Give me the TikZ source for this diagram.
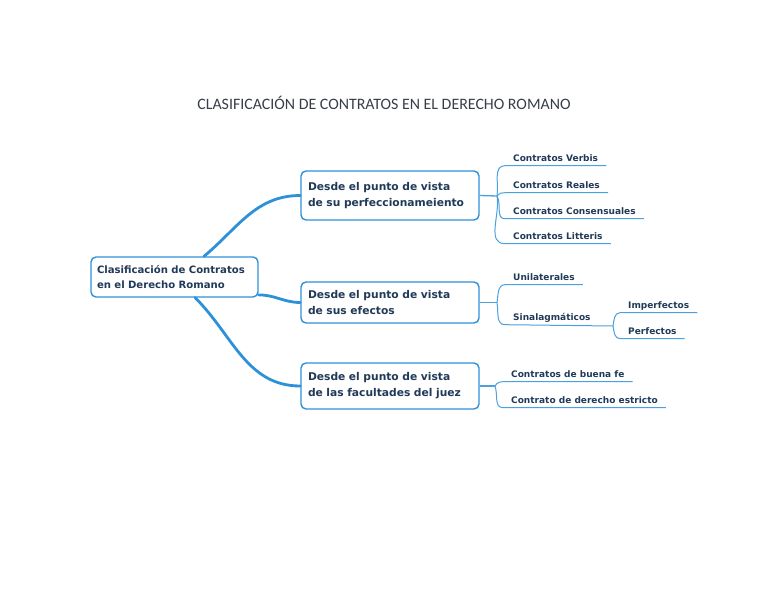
\documentclass[tikz,border=0pt]{standalone}
\usepackage{fontspec}
\setmainfont{DejaVu Sans}
\newfontfamily\titlefont{Carlito}
\usetikzlibrary{positioning, calc}
\definecolor{mapblue}{RGB}{45,145,218}
\definecolor{lineblue}{RGB}{75,160,222}
\definecolor{textnavy}{RGB}{33,58,88}
\definecolor{titlegray}{RGB}{55,62,74}

\begin{document}
\begin{tikzpicture}[x=1pt, y=-1pt,
  rootbox/.style={rectangle, draw=mapblue, line width=1.4pt, rounded corners=5pt, fill=white,
    minimum width=167pt, minimum height=40pt, text width=155pt, align=left,
    font=\bfseries\fontsize{10.1}{15}\selectfont, text=textnavy},
  viewbox/.style={rootbox, minimum width=178pt, text width=164pt,
    font=\bfseries\fontsize{10.7}{16}\selectfont},
  leaf/.style={anchor=base west, inner xsep=8pt, inner ysep=2pt, text height=7pt, text depth=2.5pt,
    font=\bfseries\fontsize{9}{10}\selectfont, text=textnavy},
  trunk/.style={draw=mapblue, line width=2.8pt, line cap=round},
  stem/.style={draw=lineblue, line width=1.3pt},
  leafline/.style={draw=lineblue, line width=1pt}
]
\useasboundingbox (0,0) rectangle (768,594);

% titulo
\node (title) [font=\titlefont\fontsize{15.9}{17}\selectfont, text=titlegray] at (384,103)
  {CLASIFICACIÓN DE CONTRATOS EN EL DERECHO ROMANO};

% nodo central
\node (root) [rootbox] at (174.5,277) {Clasificación de Contratos\\en el Derecho Romano};

% tres puntos de vista
\node (view1) [viewbox, minimum height=49pt] at (390,195.5) {Desde el punto de vista\\de su perfeccionameiento};
\node (view2) [viewbox, minimum height=41pt] at (390,302.5) {Desde el punto de vista\\de sus efectos};
\node (view3) [viewbox, minimum height=46pt] at (390,386) {Desde el punto de vista\\de las facultades del juez};

\draw [trunk] (root.35) to[out=40, in=180] (view1.west);
\draw [trunk] (root.-12) to[out=0, in=180] (view2.west);
\draw [trunk] (root.-45) to[out=-45, in=180] (view3.west);

% hojas del primer punto de vista
\node (verbis) [leaf] at (505,161) {Contratos Verbis};
\node (reales) [leaf] at (505,188) {Contratos Reales};
\node (consens) [leaf] at (505,214) {Contratos Consensuales};
\node (litteris) [leaf] at (505,239) {Contratos Litteris};

\coordinate (fork1) at (497,196);
\draw [stem] (view1.east) -- (fork1);
\draw [leafline] (fork1) to[out=80, in=180] (verbis.south west) -- (verbis.south east);
\draw [leafline] (fork1) to[out=60, in=180] (reales.south west) -- (reales.south east);
\draw [leafline] (fork1) to[out=-60, in=180] (consens.south west) -- (consens.south east);
\draw [leafline] (fork1) to[out=-80, in=180] (litteris.south west) -- (litteris.south east);

% hojas del segundo punto de vista
\node (unilat) [leaf] at (505,280) {Unilaterales};
\node (sinal) [leaf] at (505,320) {Sinalagmáticos};
\node (imperf) [leaf] at (620,308) {Imperfectos};
\node (perf) [leaf] at (620,334) {Perfectos};

\coordinate (fork2) at (497,302.5);
\coordinate (fork3) at (613,326);
\draw [stem] (view2.east) -- (fork2);
\draw [leafline] (fork2) to[out=80, in=180] (unilat.south west) -- (unilat.south east);
\draw [leafline] (fork2) to[out=-80, in=180] (sinal.south west) -- (fork3);
\draw [leafline] (fork3) to[out=80, in=180] (imperf.south west) -- (imperf.south east);
\draw [leafline] (fork3) to[out=-80, in=180] (perf.south west) -- (perf.south east);

% hojas del tercer punto de vista
\node (buenafe) [leaf] at (503,377) {Contratos de buena fe};
\node (estricto) [leaf] at (503,403) {Contrato de derecho estricto};

\coordinate (fork4) at (495,386);
\draw [stem] (view3.east) -- (fork4);
\draw [leafline] (fork4) to[out=60, in=180] (buenafe.south west) -- (buenafe.south east);
\draw [leafline] (fork4) to[out=-70, in=180] (estricto.south west) -- (estricto.south east);

\end{tikzpicture}
\end{document}
